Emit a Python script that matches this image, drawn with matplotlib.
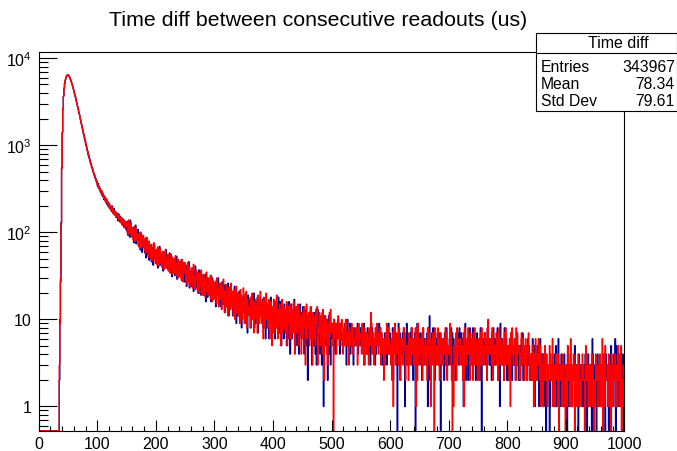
import numpy as np
import matplotlib
matplotlib.use("Agg")
import matplotlib.pyplot as plt
from matplotlib.patches import Rectangle
from matplotlib.ticker import FixedLocator, LogLocator, MultipleLocator, NullFormatter

plt.rcParams['font.family'] = ['Liberation Sans', 'DejaVu Sans']
plt.rcParams['mathtext.default'] = 'regular'

# histogram: 1000 bins of 1 us from 0 to 1000
bin_edges = np.arange(0, 1001)
n_empty = 35  # bins 0-34 are empty

# bins 35-149 (peak region)
red_peak = [3, 9, 30, 125, 540, 1420, 2610, 3690, 4520, 5150, 5620, 5990, 6240, 6390, 6450,
            6410, 6268, 6112, 5871, 5684, 5398, 5163, 4872, 4641, 4352,
            4131, 3858, 3642, 3391, 3196, 2968, 2793, 2587, 2433, 2249,
            2112, 1948, 1834, 1689, 1592, 1461, 1378, 1271, 1203, 1098,
            1049, 962, 918, 847, 806, 748, 719, 664, 641, 596,
            578, 534, 522, 483, 472, 439, 431, 401, 397, 369,
            352, 349, 322, 338, 301, 310, 288, 301, 265, 281,
            259, 244, 262, 231, 247, 219, 236, 225, 201, 218,
            209, 190, 204, 181, 196, 190, 167, 184, 171, 158,
            176, 160, 152, 168, 149, 157, 139, 158, 147, 129,
            146, 138, 121, 144, 131, 126, 137, 114, 128, 120]
blue_peak = [2, 10, 27, 131, 552, 1398, 2634, 3671, 4548, 5121, 5650, 5962, 6271, 6362, 6474,
             6389, 6297, 6081, 5902, 5651, 5427, 5131, 4903, 4612, 4384,
             4098, 3889, 3613, 3422, 3161, 2997, 2761, 2612, 2401, 2271,
             2083, 1974, 1806, 1712, 1563, 1488, 1352, 1299, 1176, 1121,
             1021, 984, 893, 868, 781, 768, 701, 681, 622, 612,
             556, 549, 503, 497, 458, 455, 418, 414, 382, 386,
             341, 364, 318, 329, 318, 289, 306, 271, 290, 256,
             270, 238, 255, 240, 222, 243, 210, 229, 214, 196,
             214, 186, 199, 193, 175, 201, 174, 165, 188, 160,
             165, 171, 148, 161, 158, 136, 163, 142, 133, 152,
             135, 147, 129, 130, 141, 115, 132, 127, 110, 131]

# bins 150-499
red_mid = [131, 98, 122, 139, 95, 116, 101, 128, 89, 112,
           112, 82, 98, 118, 79, 93, 107, 81, 96, 88,
           95, 68, 82, 101, 66, 88, 74, 69, 93, 72,
           62, 84, 57, 76, 88, 60, 71, 52, 79, 65,
           67, 50, 73, 47, 63, 55, 76, 49, 61, 44,
           63, 48, 42, 68, 54, 41, 59, 65, 44, 52,
           40, 60, 51, 37, 57, 45, 64, 39, 50, 43,
           56, 36, 48, 41, 34, 57, 44, 52, 33, 46,
           50, 34, 41, 54, 32, 44, 38, 30, 49, 37,
           31, 46, 36, 29, 49, 39, 27, 43, 34, 45,
           42, 28, 37, 25, 45, 33, 27, 40, 24, 34,
           27, 39, 23, 34, 43, 26, 31, 22, 37, 29,
           35, 21, 28, 34, 20, 31, 25, 37, 19, 30,
           25, 33, 19, 29, 18, 27, 35, 21, 26, 19,
           30, 19, 26, 17, 32, 22, 16, 28, 24, 18,
           27, 17, 23, 15, 30, 19, 22, 14, 26, 18,
           17, 26, 13, 23, 19, 29, 15, 21, 12, 20,
           25, 14, 19, 11, 23, 16, 21, 13, 26, 15,
           14, 21, 11, 22, 16, 10, 19, 24, 12, 17,
           20, 11, 16, 9, 22, 13, 18, 10, 15, 23,
           12, 19, 9, 15, 21, 8, 17, 11, 14, 13,
           11, 18, 8, 14, 20, 10, 16, 7, 15, 12,
           17, 10, 14, 7, 19, 12, 9, 15, 21, 11,
           9, 16, 12, 6, 18, 13, 8, 11, 20, 10,
           14, 8, 12, 17, 6, 11, 16, 9, 5, 14,
           12, 17, 7, 10, 15, 8, 19, 11, 6, 13,
           9, 15, 11, 5, 13, 17, 7, 10, 14, 8,
           13, 7, 10, 16, 5, 9, 14, 11, 6, 15,
           10, 6, 13, 11, 7, 16, 9, 4, 12, 14,
           7, 12, 15, 5, 10, 13, 8, 11, 4, 9,
           12, 6, 9, 14, 8, 3, 10, 15, 6, 11,
           8, 12, 5, 10, 14, 6, 9, 3, 12, 10,
           6, 11, 5, 13, 9, 14, 3, 8, 7, 12,
           9, 5, 11, 7, 4, 13, 10, 2, 8, 11,
           6, 10, 4, 3, 9, 5, 12, 7, 13, 8]
blue_mid = [104, 133, 93, 120, 127, 88, 138, 99, 115, 94,
            87, 113, 76, 101, 95, 121, 74, 97, 84, 108,
            70, 96, 84, 63, 99, 76, 59, 90, 68, 83,
            77, 58, 86, 51, 70, 82, 56, 74, 48, 69,
            54, 71, 46, 67, 58, 42, 65, 72, 50, 56,
            45, 64, 55, 39, 60, 49, 69, 43, 56, 41,
            57, 42, 36, 60, 46, 53, 39, 63, 40, 51,
            38, 53, 45, 58, 35, 44, 54, 31, 49, 40,
            36, 47, 32, 49, 41, 53, 29, 45, 35, 42,
            43, 32, 38, 48, 28, 35, 45, 30, 41, 27,
            30, 39, 24, 42, 31, 37, 46, 23, 36, 28,
            35, 24, 39, 28, 21, 36, 31, 41, 23, 30,
            24, 33, 20, 37, 27, 22, 35, 19, 31, 25,
            32, 19, 26, 21, 33, 16, 25, 30, 18, 28,
            19, 28, 22, 32, 16, 25, 30, 17, 26, 21,
            18, 26, 14, 28, 19, 24, 30, 15, 22, 20,
            26, 14, 20, 27, 15, 18, 24, 12, 25, 17,
            14, 23, 19, 26, 11, 18, 14, 24, 16, 21,
            21, 11, 17, 15, 24, 12, 20, 9, 18, 14,
            11, 17, 21, 10, 15, 19, 8, 18, 13, 16,
            18, 9, 14, 20, 11, 16, 7, 19, 12, 15,
            17, 8, 13, 18, 10, 15, 12, 20, 8, 14,
            9, 16, 11, 18, 7, 14, 10, 17, 12, 15,
            14, 10, 17, 8, 12, 15, 9, 6, 16, 13,
            8, 15, 11, 6, 14, 9, 18, 10, 13, 7,
            14, 9, 12, 6, 16, 11, 8, 15, 7, 18,
            12, 7, 16, 9, 5, 14, 10, 13, 6, 15,
            7, 13, 10, 5, 15, 9, 6, 16, 12, 4,
            11, 15, 6, 9, 13, 10, 17, 5, 8, 12,
            10, 5, 9, 13, 4, 11, 15, 8, 6, 12,
            9, 14, 6, 4, 11, 8, 13, 5, 10, 2,
            11, 5, 12, 7, 14, 9, 3, 8, 11, 5,
            7, 12, 4, 10, 3, 8, 13, 6, 9, 7,
            4, 10, 8, 3, 12, 6, 1, 9, 11, 5,
            8, 5, 10, 2, 7, 11, 4, 6, 3, 9]

# bins 500-999, one hex digit per bin
red_tail = ("7950a86948" "7b65968a74" "6859a75763" "8576974856" "5868379576"
            "6495738564" "7463856c94" "5736485967" "4685375462" "6374958465"
            "5362718493" "4756385264" "6348572543" "5274635846" "3658172963"
            "5463728354" "6352847361" "4573608453" "5836247536" "3645837254"
            "5493720315" "4372856434" "6354271845" "3648452736" "5273846352"
            "4625738453" "3574628a45" "5463827354" "4736258463" "6345274835"
            "4352617485" "3546283745" "5243736452" "4632547324" "3425314263"
            "2436325143" "3142532413" "2354223612" "3124321402" "2331423120"
            "3215423162" "1324203213" "2413221342" "3201524213" "2132413202"
            "1423213241" "3160241522" "2314123042" "1232412315" "2413502132")
blue_tail = ("8695a74869" "6a87459676" "7596836a57" "6948576385" "7586946758"
             "5768493675" "6857463958" "7456384675" "5968473546" "4756385947"
             "6453827465" "5304937254" "4758314695" "6345738462" "5470639354"
             "4736258463" "5647184b26" "3758462745" "6453720364" "4527368453"
             "3654827463" "5243675384" "4736214592" "5462738345" "3857462473"
             "5364820564" "4753628453" "6342758346" "3548263194" "4635284362"
             "5243637524" "4365247352" "3524637245" "5342463523" "2436235142"
             "3524136224" "2413240312" "3201232413" "2415123603" "1342321421"
             "2304213231" "3123452132" "2041323213" "1324210341" "3213064123"
             "2302413213" "1324132042" "3210232513" "2143605321" "3124213402")

red = np.array([0] * n_empty + red_peak + red_mid + [int(c, 16) for c in red_tail], float)
blue = np.array([0] * n_empty + blue_peak + blue_mid + [int(c, 16) for c in blue_tail], float)

ymin, ymax = 0.527, 11900

fig = plt.figure(figsize=(6.77, 4.52), dpi=100)
ax = fig.add_axes([0.0572, 0.0449, 0.8650, 0.8385])

# empty bins sit on the bottom of the frame, like ROOT does on a log axis
for counts, col in ((blue, '#000099'), (red, '#ff0000')):
    ax.stairs(np.where(counts > 0, counts, ymin), bin_edges, baseline=None,
              color=col, lw=1.0)

ax.set_yscale('log')
ax.set_xlim(0, 1000)
ax.set_ylim(ymin, ymax)
ax.yaxis.set_major_locator(FixedLocator([1, 10, 100, 1000, 10000]))
ax.set_yticklabels(['1', '10', '$10^2$', '$10^3$', '$10^4$'])
ax.yaxis.set_minor_locator(LogLocator(base=10, subs=np.arange(2, 10), numticks=20))
ax.yaxis.set_minor_formatter(NullFormatter())
ax.xaxis.set_major_locator(MultipleLocator(100))
ax.xaxis.set_minor_locator(MultipleLocator(20))

ax.tick_params(which='both', direction='in', top=False, right=False, width=0.8,
               colors='black', labelsize=11.5)
ax.tick_params(axis='y', which='major', length=13, pad=5)
ax.tick_params(axis='y', which='minor', length=6.3)
ax.tick_params(axis='x', which='major', length=8, pad=4)
ax.tick_params(axis='x', which='minor', length=3.8)
for sp in ax.spines.values():
    sp.set_linewidth(0.8)

fig.text(318 / 677, 1 - 20 / 452, 'Time diff between consecutive readouts (us)',
         ha='center', va='center', fontsize=15.4)

# stats box
W, H = 677, 452
bx0, bx1, by0, by1, ysep = 536, 676.5, 34, 112, 54
fig.add_artist(Rectangle((bx0 / W, 1 - by1 / H), (bx1 - bx0) / W, (by1 - by0) / H,
                         transform=fig.transFigure, facecolor='white', edgecolor='black',
                         lw=0.8, zorder=5))
fig.add_artist(plt.Line2D([bx0 / W, bx1 / W], [1 - ysep / H, 1 - ysep / H],
                          transform=fig.transFigure, color='black', lw=0.8, zorder=6))
fig.text(618 / W, 1 - 44 / H, 'Time diff', ha='center', va='center', fontsize=11.5, zorder=7)
stat_names = ['Entries', 'Mean', 'Std Dev']
stat_values = ['343967', '78.34', '79.61']
for i, (name, val) in enumerate(zip(stat_names, stat_values)):
    yy = 1 - (67.7 + 16.7 * i) / H
    fig.text(541 / W, yy, name, ha='left', va='center', fontsize=11.3, zorder=7)
    fig.text(675 / W, yy, val, ha='right', va='center', fontsize=11.3, zorder=7)

fig.savefig('out.png', dpi=100)
